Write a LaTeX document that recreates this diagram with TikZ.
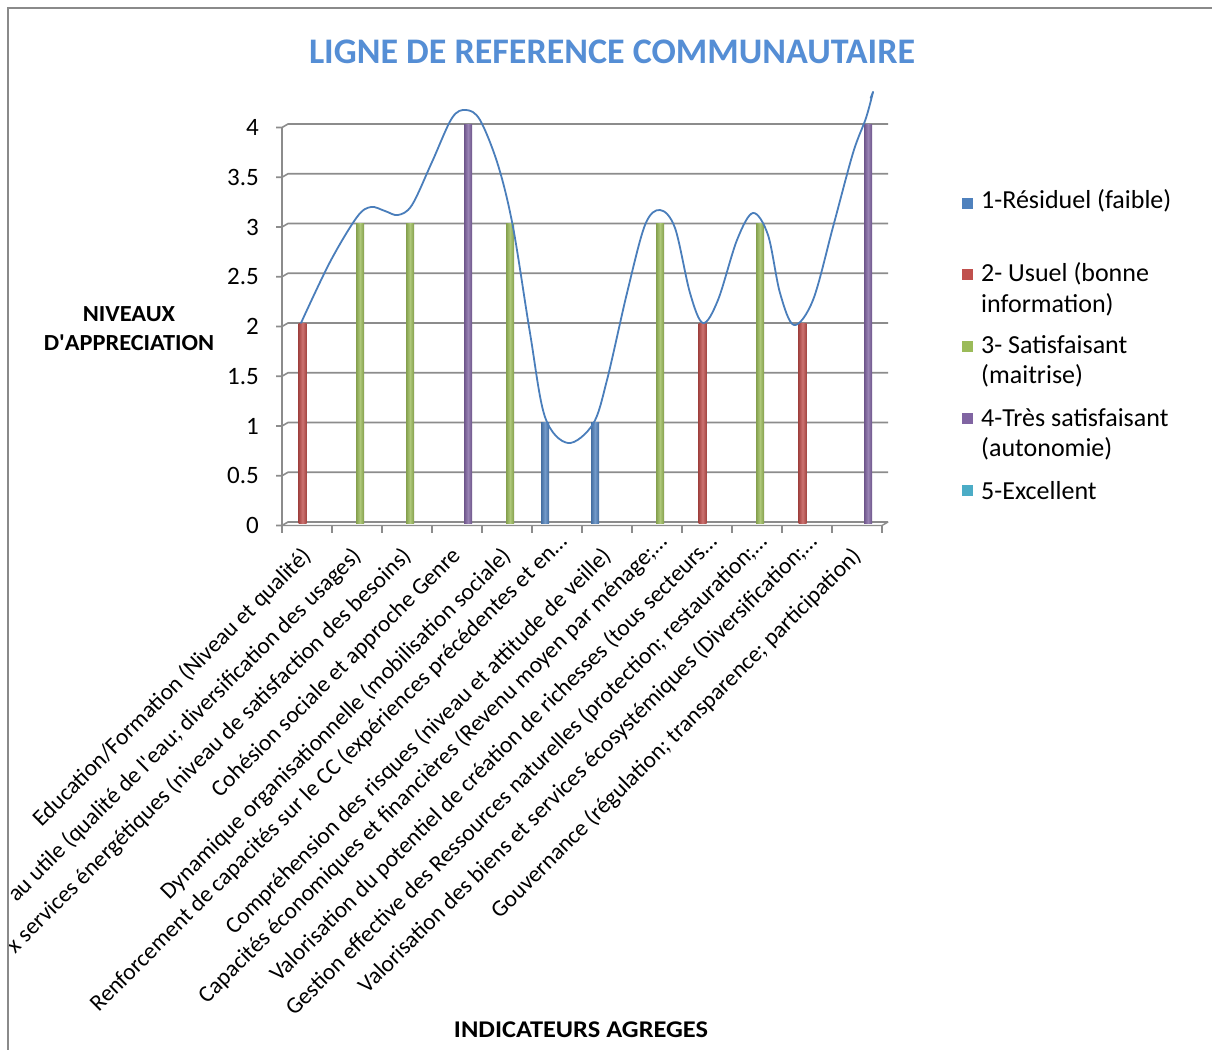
\documentclass[tikz,border=0pt]{standalone}
\usepackage{fontspec}
\setmainfont{Carlito}
\definecolor{sblue}{HTML}{4F81BD}
\definecolor{sred}{HTML}{C0504D}
\definecolor{sgreen}{HTML}{9BBB59}
\definecolor{spurple}{HTML}{8064A2}
\definecolor{scyan}{HTML}{4BACC6}
\definecolor{titleblue}{HTML}{558ED5}
\definecolor{gridgray}{HTML}{8C8C8C}
\definecolor{framegray}{HTML}{8A8A8A}
\definecolor{curveblue}{HTML}{4A7EBB}
\begin{document}
\begin{tikzpicture}[x=1pt,y=-1pt,
  gridline/.style={gridgray,line width=1.6pt},
  axisline/.style={gridgray,line width=1.4pt},
  ticklabel/.style={anchor=east,inner sep=0pt,font=\fontsize{25}{30}\selectfont},
  catlabel/.style={anchor=north east,inner sep=0pt,rotate=45,font=\fontsize{23.4}{28}\selectfont},
  legtext/.style={anchor=west,inner sep=0pt,font=\fontsize{26}{31}\selectfont},
  legbox/.style={minimum size=11pt,inner sep=0pt},
  axtitle/.style={font=\bfseries\fontsize{23}{29}\selectfont,inner sep=0pt},
  titlestyle/.style={font=\bfseries\fontsize{36}{40}\selectfont,text=titleblue,inner sep=0pt}]
\useasboundingbox (0,0) rectangle (1212,1049);
\fill[white] (0,0) rectangle (1212,1049);
% frame
\draw[framegray,line width=2pt] (8,1060) -- (8,8) -- (1220,8);
% title
\node[titlestyle] (title) at (612,52) {LIGNE DE REFERENCE COMMUNAUTAIRE};
% gridlines and y ticks
\foreach \v/\lab in {0/0,0.5/0.5,1/1,1.5/1.5,2/2,2.5/2.5,3/3,3.5/3.5,4/4}{
  \pgfmathsetmacro{\yy}{522-99.5*\v}
  \draw[gridline] (276,\yy+3.5) -- (282,\yy+3.5) -- (288,\yy) -- (888,\yy);
  \node[ticklabel] (yt\lab) at (259,\yy+3.5) {\lab};
}
% vertical axis and floor
\draw[axisline] (282,127.5) -- (282,533);
\draw[axisline] (282,525.5) -- (882,525.5) -- (888,522);
\foreach \k in {0,...,12}{
  \draw[axisline] (282+50*\k,525.5) -- (282+50*\k,533);
}
% bars
\foreach \c/\s/\v/\col in {1/2/2/sred,2/3/3/sgreen,3/3/3/sgreen,4/4/4/spurple,5/3/3/sgreen,6/1/1/sblue,7/1/1/sblue,8/3/3/sgreen,9/2/2/sred,10/3/3/sgreen,11/2/2/sred,12/4/4/spurple}{
  \pgfmathsetmacro{\off}{\s==1 ? 13 : (\s==2 ? 20.5 : (\s==3 ? 28 : 36))}
  \pgfmathsetmacro{\xc}{282+50*(\c-1)+\off}
  \pgfmathsetmacro{\yt}{522-99.5*\v}
  \shade[left color=\col!85!black,right color=\col!85!black,middle color=\col!80!white]
    (\xc-4,\yt) rectangle (\xc+4,523);
}
% smoothed line
\draw[curveblue,line width=1.8pt,line join=round,line cap=round] plot[smooth,tension=0.55] coordinates {
 (301,323) (330,262) (357,217) (371,207) (385,211) (398,215) (412,205) (432,162) (452,118) (466,110) (480,120) (498,165) (513,227) (530,333) (545,417) (568,443) (593,424) (607,380) (627,293) (645,225) (660,210) (675,228) (690,293) (703,323) (718,300) (737,240) (753,213) (768,235) (780,293) (794,325) (813,300) (833,227) (853,153) (866,118) (873,92)};
\draw[curveblue,line width=1.6pt,line cap=round] (873,92) -- (870.5,98);
% axis titles
\node[axtitle,xscale=1.06] (ylab1) at (129,314) {NIVEAUX};
\node[axtitle,xscale=1.06] (ylab2) at (129,343) {D\textquotesingle APPRECIATION};
\node[axtitle,font=\bfseries\fontsize{24}{29}\selectfont,xscale=1.1] (xlab) at (581,1030) {INDICATEURS AGREGES};
% legend
\node[legbox,fill=sblue] (lb1) at (967.5,203) {};
\node[legtext] (lt1) at (981,201) {1-Résiduel (faible)};
\node[legbox,fill=sred] (lb2) at (967.5,274) {};
\node[legtext] (lt2a) at (981,274) {2- Usuel (bonne};
\node[legtext] (lt2b) at (981,305) {information)};
\node[legbox,fill=sgreen] (lb3) at (967.5,346) {};
\node[legtext] (lt3a) at (981,345) {3- Satisfaisant};
\node[legtext] (lt3b) at (981,376) {(maitrise)};
\node[legbox,fill=spurple] (lb4) at (967.5,418) {};
\node[legtext] (lt4a) at (981,418) {4-Très satisfaisant};
\node[legtext] (lt4b) at (981,449) {(autonomie)};
\node[legbox,fill=scyan] (lb5) at (967.5,490) {};
\node[legtext] (lt5) at (981,491) {5-Excellent};
% category labels
\begin{scope}
\clip (9,9) rectangle (1212,1049);
\node[catlabel] (c1) at (300,545) {Education/Formation (Niveau et qualité)};
\node[catlabel] (c2) at (350,545) {au utile (qualité de l\textquotesingle eau; diversification des usages)};
\node[catlabel] (c3) at (400,545) {x services énergétiques (niveau de satisfaction des besoins)};
\node[catlabel] (c4) at (450,545) {Cohésion sociale et approche Genre};
\node[catlabel] (c5) at (500,545) {Dynamique organisationnelle (mobilisation sociale)};
\node[catlabel] (c6) at (556,531) {Renforcement de capacités sur le CC (expériences précédentes et en…};
\node[catlabel] (c7) at (600,545) {Compréhension des risques (niveau et attitude de veille)};
\node[catlabel] (c8) at (656,531) {Capacités économiques et financières (Revenu moyen par ménage;…};
\node[catlabel] (c9) at (706,531) {Valorisation du potentiel de création de richesses (tous secteurs…};
\node[catlabel] (c10) at (756,531) {Gestion effective des Ressources naturelles (protection; restauration;…};
\node[catlabel] (c11) at (806,531) {Valorisation des biens et services écosystémiques (Diversification;…};
\node[catlabel] (c12) at (850,545) {Gouvernance (régulation; transparence; participation)};
\end{scope}
\end{tikzpicture}
\end{document}
